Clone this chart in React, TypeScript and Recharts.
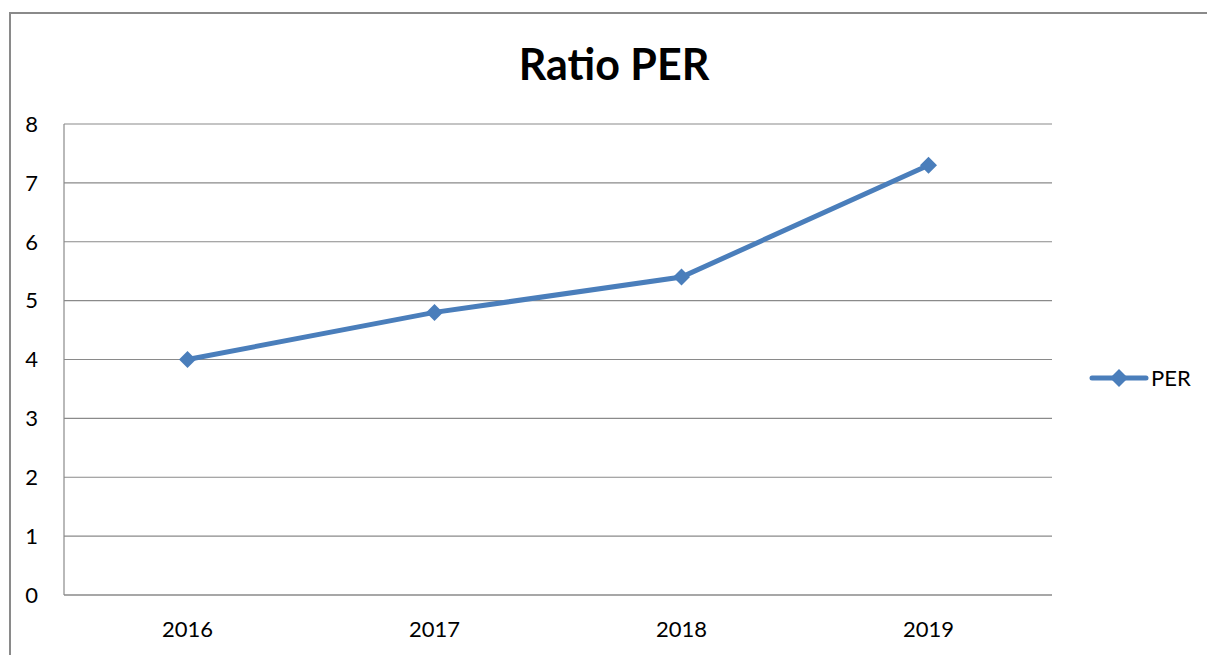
import { LineChart, Line, XAxis, YAxis, CartesianGrid } from "recharts";

const years = ["2016", "2017", "2018", "2019"];
const perValues = [4.0, 4.8, 5.4, 7.3];
const yTicks = [0, 1, 2, 3, 4, 5, 6, 7, 8];

const data = years.map((year, i) => ({ year, per: perValues[i] }));

const FONT = "Lato, 'Open Sans', sans-serif";
const BLUE = "#4A7EBB";
const GRID = "#8a8a8a";

const Diamond = (props: any) => {
  const { cx, cy } = props;
  if (cx == null || cy == null) return null;
  const r = 8.5;
  return (
    <polygon
      points={`${cx},${cy - r} ${cx + r},${cy} ${cx},${cy + r} ${cx - r},${cy}`}
      fill={BLUE}
    />
  );
};

export default function App() {
  return (
    <div style={{ position: "absolute", left: 0, top: 0, width: 1207, height: 655, overflow: "hidden", background: "#fff" }}>
      <div
        style={{
          position: "absolute",
          left: 9,
          top: 12,
          width: 1210,
          height: 700,
          border: "2px solid #8a8a8a",
          boxSizing: "border-box",
        }}
      />
      <div
        style={{
          position: "absolute",
          left: 0,
          width: 1228,
          top: 35,
          textAlign: "center",
          fontFamily: FONT,
          fontWeight: 700,
          fontSize: 43,
          lineHeight: "58px",
          color: "#000",
        }}
      >
        Ratio PER
      </div>
      <div style={{ position: "absolute", left: 0, top: 0 }}>
        <LineChart width={1207} height={655} data={data} margin={{ top: 124, right: 155, left: 0, bottom: 30 }}>
          <CartesianGrid vertical={false} stroke={GRID} strokeWidth={1.2} />
          <XAxis
            dataKey="year"
            axisLine={{ stroke: GRID, strokeWidth: 1.2 }}
            tickLine={false}
            tickMargin={20}
            height={30}
            padding={{ left: 123.5, right: 123.5 }}
            tick={{ fontSize: 22, fill: "#000", fontFamily: FONT }}
          />
          <YAxis
            domain={[0, 8]}
            ticks={yTicks}
            width={64}
            axisLine={{ stroke: GRID, strokeWidth: 1.2 }}
            tickLine={false}
            tickMargin={20}
            tick={{ fontSize: 22, fill: "#000", fontFamily: FONT }}
          />
          <Line
            type="linear"
            dataKey="per"
            name="PER"
            stroke={BLUE}
            strokeWidth={5}
            dot={<Diamond />}
            activeDot={false}
            isAnimationActive={false}
          />
        </LineChart>
      </div>
      <svg style={{ position: "absolute", left: 1088, top: 364 }} width={115} height={30}>
        <line x1={4} y1={14} x2={58} y2={14} stroke={BLUE} strokeWidth={5} strokeLinecap="round" />
        <polygon points="31,5 40,14 31,23 22,14" fill={BLUE} />
        <text x={63} y={22} fontSize={22} fontFamily={FONT} fill="#000">
          PER
        </text>
      </svg>
    </div>
  );
}
